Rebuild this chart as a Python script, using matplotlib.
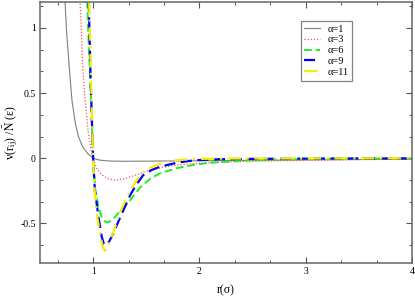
import matplotlib
matplotlib.use("Agg")
import matplotlib.pyplot as plt
from matplotlib.ticker import MultipleLocator

plt.rcParams['font.family'] = ['Liberation Serif', 'DejaVu Serif']
plt.rcParams['mathtext.fontset'] = 'stix'

# values, r in units of sigma
r1 = [0.735, 0.75, 0.775, 0.80, 0.83, 0.86, 0.90, 0.95, 1.00, 1.06, 1.15, 1.3,
      1.5, 1.8, 2.2, 2.8, 3.4, 4.0]
v1 = [1.21, 0.97, 0.70, 0.45, 0.28, 0.17, 0.09, 0.035, 0.0, -0.014, -0.021,
      -0.023, -0.022, -0.02, -0.018, -0.014, -0.01, -0.007]

r3 = [0.876, 0.89, 0.90, 0.925, 0.955, 0.985, 1.00, 1.03, 1.08, 1.14, 1.20,
      1.28, 1.38, 1.50, 1.65, 1.80, 2.0, 2.3, 2.8, 3.4, 4.0]
v3 = [1.21, 0.97, 0.72, 0.45, 0.19, 0.04, 0.0, -0.075, -0.125, -0.158, -0.168,
      -0.16, -0.135, -0.10, -0.07, -0.05, -0.038, -0.028, -0.018, -0.011, -0.007]

r6 = [0.944, 0.955, 0.967, 0.98, 0.993, 1.00, 1.02, 1.05, 1.08, 1.11, 1.14,
      1.17, 1.20, 1.25, 1.30, 1.35, 1.44, 1.54, 1.63, 1.79, 1.95, 2.1, 2.4,
      2.8, 3.4, 4.0]
v6 = [1.21, 0.95, 0.70, 0.45, 0.15, 0.0, -0.24, -0.37, -0.45, -0.485, -0.492,
      -0.478, -0.455, -0.41, -0.365, -0.32, -0.225, -0.155, -0.115, -0.075,
      -0.05, -0.034, -0.018, -0.008, -0.003, -0.001]

r9 = [0.958, 0.966, 0.973, 0.987, 1.00, 1.016, 1.05, 1.08, 1.10, 1.12, 1.15,
      1.19, 1.24, 1.30, 1.35, 1.40, 1.47, 1.55, 1.63, 1.79, 1.95, 2.2, 2.6,
      3.2, 4.0]
v9 = [1.21, 0.95, 0.70, 0.32, 0.0, -0.245, -0.45, -0.60, -0.655, -0.668,
      -0.64, -0.575, -0.48, -0.37, -0.28, -0.21, -0.13, -0.09, -0.064, -0.034,
      -0.015, -0.007, -0.004, -0.002, -0.001]

r11 = [0.962, 0.97, 0.977, 0.99, 1.00, 1.016, 1.04, 1.066, 1.09, 1.11, 1.13,
       1.17, 1.21, 1.25, 1.30, 1.35, 1.40, 1.44, 1.50, 1.57, 1.68, 1.79, 1.95,
       2.3, 3.0, 4.0]
v11 = [1.21, 0.95, 0.70, 0.30, 0.0, -0.27, -0.46, -0.58, -0.68, -0.71, -0.69,
       -0.61, -0.52, -0.42, -0.33, -0.245, -0.18, -0.13, -0.09, -0.06, -0.03,
       -0.014, -0.005, -0.002, -0.001, 0.0]

labels = ['α=1', 'α=3', 'α=6', 'α=9', 'α=11']

fig = plt.figure(figsize=(4.15, 2.99), dpi=100)
ax = fig.add_axes([0.0964, 0.122, 0.8964, 0.8716])

ax.plot(r1, v1, color='#808080', lw=0.8, label=labels[0])
ax.plot(r3, v3, color='#ff5050', lw=0.9, ls=(0, (1, 1.5)), label=labels[1])
ax.plot(r6, v6, color='#22ee22', lw=1.4, ls=(0, (4, 2)), label=labels[2])
ax.plot(r9, v9, color='#0000ff', lw=1.6, ls=(0, (5, 2.5)), label=labels[3])
ax.plot(r11, v11, color='#f5ee00', lw=1.6, ls=(0, (6, 2.5, 1, 2.5)), label=labels[4])

ax.set_xlim(0.5, 4)
ax.set_ylim(-0.8, 1.2)
ax.xaxis.set_major_locator(MultipleLocator(1))
ax.xaxis.set_minor_locator(MultipleLocator(1 / 3))
ax.yaxis.set_major_locator(MultipleLocator(0.5))
ax.yaxis.set_minor_locator(MultipleLocator(0.5 / 3))
ax.set_yticks([-0.5, 0, 0.5, 1])
ax.set_yticklabels(['-0.5', '0', '0.5', '1'])

ax.tick_params(which='both', direction='in', top=True, right=True,
               labelsize=7, pad=3, color='#555555')
ax.tick_params(which='major', length=4, width=0.8)
ax.tick_params(which='minor', length=2.2, width=0.7)
for sp in ax.spines.values():
    sp.set_color('#666666')
    sp.set_linewidth(1.1)

ax.set_xlabel('r(σ)', fontsize=8.5, labelpad=6)
ax.set_ylabel(r'v(r$_{\rm ij}$) /$\bar{\rm N}$ (ε)', fontsize=8.5)
ax.yaxis.set_label_coords(-0.055, 0.5)

leg = ax.legend(loc='upper left', bbox_to_anchor=(0.7246, 0.931),
                bbox_transform=fig.transFigure, fontsize=7.5, frameon=True,
                fancybox=False, edgecolor='#666666', borderaxespad=0,
                handlelength=1.5, handletextpad=0.7, labelspacing=0.15,
                borderpad=0.35)
leg.get_frame().set_linewidth(0.9)

fig.savefig('out.png', dpi=100)
